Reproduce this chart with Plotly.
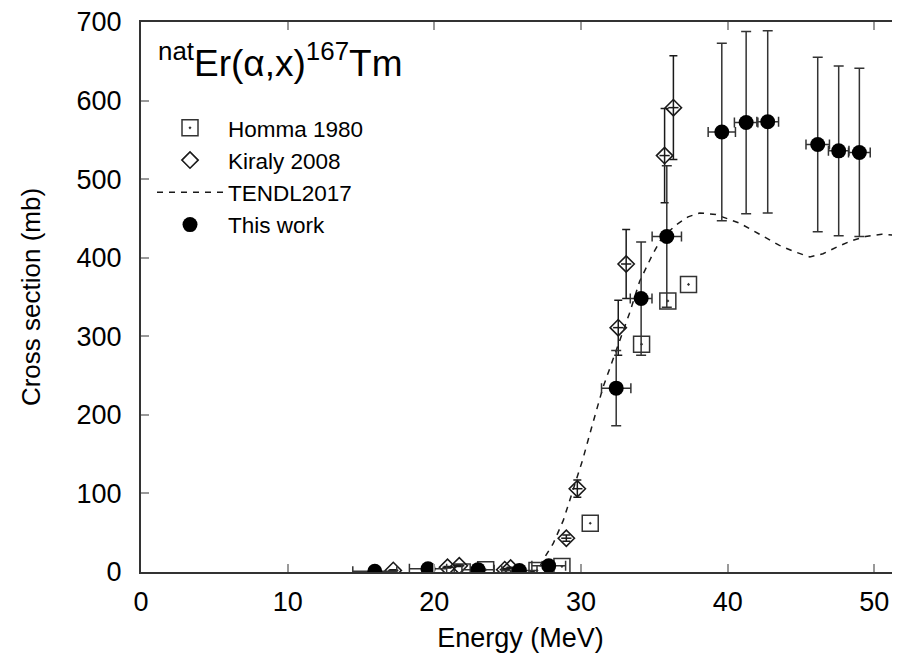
import plotly.graph_objects as go

# Homma 1980 (open squares)
homma_e = [21.9, 23.5, 27.0, 28.7, 30.63, 34.13, 35.92, 37.33]
homma_s = [0, 3, 2, 7, 62, 290, 345, 366]

# Kiraly 2008 (open diamonds)
kiraly_e = [17.2, 20.9, 21.7, 24.8, 25.2, 29.0, 29.75, 32.54, 33.08, 35.7, 36.3]
kiraly_s = [2, 6, 8, 3, 5, 43, 106, 311, 392, 530, 591]
kiraly_ds = [1, 1, 1, 1, 1, 4, 11, 35, 44, 60, 66]
kiraly_de = [0.35] * 11

# TENDL2017 (dashed line)
tendl_e = [26.5, 26.8, 27.2, 27.4, 28.1, 28.8, 29.45, 30.1, 30.8, 31.5, 32.17,
           33.3, 34.0, 34.9, 35.5, 36.5, 37.3, 38.1, 39.2, 40.0, 40.8, 41.5, 42.5,
           43.5, 44.5, 45.6, 46.5, 47.6, 48.5, 49.4, 50.5, 51.7]
tendl_s = [0, 1, 7, 15, 36, 66, 104, 142, 189, 235, 270,
           329, 370, 405, 425, 442, 452, 457, 455, 450, 444, 437, 426,
           416, 408, 401, 405, 415, 422, 427, 430, 428]

# This work (filled circles)
work_e = [15.94, 19.57, 22.98, 25.8, 27.8, 32.4, 34.1, 35.85, 39.6, 41.26, 42.73, 46.14, 47.57, 48.98]
work_s = [1, 4, 3, 2, 8, 234, 348, 427, 560, 572, 573, 544, 536, 534]
work_ds = [1, 1, 1, 1, 1, 48, 72, 90, 113, 116, 116, 111, 108, 107]
work_de = [1.5, 1.27, 1.1, 1.2, 1.15, 1.0, 0.74, 1.0, 0.93, 0.8, 0.74, 0.8, 0.7, 0.74]

ink = "#1a1a1a"
font = "Liberation Sans, Arial, sans-serif"

fig = go.Figure()

fig.add_trace(go.Scatter(
    x=homma_e, y=homma_s, mode="markers", name="Homma 1980",
    marker=dict(symbol="square-open-dot", size=16, color="#333333", line=dict(width=1.5)),
))
fig.add_trace(go.Scatter(
    x=kiraly_e, y=kiraly_s, mode="markers", name="Kiraly 2008",
    marker=dict(symbol="diamond-open", size=12.5, color=ink, line=dict(width=1.6)),
    error_y=dict(type="data", array=kiraly_ds, color=ink, thickness=1.5, width=4),
    error_x=dict(type="data", array=kiraly_de, color=ink, thickness=1.5, width=0),
))
fig.add_trace(go.Scatter(
    x=tendl_e, y=tendl_s, mode="lines", name="TENDL2017",
    line=dict(color=ink, width=1.5, dash="6px,6px"),
))
fig.add_trace(go.Scatter(
    x=work_e, y=work_s, mode="markers", name="This work",
    marker=dict(symbol="circle", size=15, color="black"),
    error_y=dict(type="data", array=work_ds, color="#333333", thickness=1.5, width=5),
    error_x=dict(type="data", array=work_de, color="#333333", thickness=1.5, width=5),
))

fig.add_annotation(
    x=0.02, y=0.93, xref="paper", yref="paper", xanchor="left", yanchor="middle",
    text="<sup>nat</sup>Er(α,x)<sup>167</sup>Tm", showarrow=False,
    font=dict(family=font, size=37, color="black"),
)

# the page body adds an 8px offset, so the figure is 8px smaller on each axis
fig.update_layout(
    width=892, height=658,
    margin=dict(l=133, r=0, t=14, b=94, autoexpand=False),
    paper_bgcolor="white", plot_bgcolor="white",
    font=dict(family=font, color="black"),
    showlegend=True,
    legend=dict(x=0.0145, y=0.846, xanchor="left", yanchor="top",
                font=dict(family=font, size=22.5, color="black"),
                bgcolor="rgba(0,0,0,0)", tracegroupgap=0, itemwidth=66),
    xaxis=dict(
        range=[0, 51.75], tickvals=[0, 10, 20, 30, 40, 50],
        showgrid=False, zeroline=False, automargin=False,
        showline=True, linecolor="#333333", linewidth=2, mirror="ticks",
        ticks="inside", ticklen=8, tickcolor="#999999", tickwidth=1.5,
        tickfont=dict(family=font, size=27, color="black"),
        ticklabelstandoff=5, ticklabeloverflow="allow",
        title=dict(text="Energy (MeV)", font=dict(family=font, size=27, color="black"), standoff=12),
    ),
    yaxis=dict(
        range=[0, 700], tickvals=[0, 100, 200, 300, 400, 500, 600, 700],
        showgrid=False, zeroline=False, automargin=False,
        showline=True, linecolor="#333333", linewidth=2, mirror="ticks",
        ticks="inside", ticklen=8, tickcolor="#999999", tickwidth=1.5,
        tickfont=dict(family=font, size=27, color="black"),
        ticklabelstandoff=12, ticklabeloverflow="allow",
        title=dict(text="Cross section (mb)", font=dict(family=font, size=26, color="black"), standoff=28),
    ),
)

fig.write_html("out.html")
